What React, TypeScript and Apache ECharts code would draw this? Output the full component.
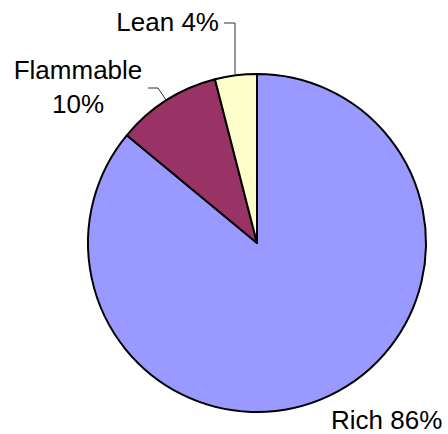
import React, { useEffect, useRef } from "react";
import * as echarts from "echarts";

const categories = ["Rich", "Flammable", "Lean"];
const values = [86, 10, 4];
const colors = ["#9999FF", "#993366", "#FFFFCC"];

export default function App() {
  const ref = useRef<HTMLDivElement>(null);
  useEffect(() => {
    if (!ref.current) return;
    const chart = echarts.init(ref.current, undefined, { renderer: "svg" });
    const labelPos = [
      { x: 331, y: 420, align: "left", verticalAlign: "middle" },
      { x: 78, y: 87, align: "center", verticalAlign: "middle" },
      { x: 219, y: 22, align: "right", verticalAlign: "middle" },
    ];
    const linePts: any[] = [
      null,
      [[166, 100], [158, 88], [148, 88]],
      [[235, 74], [235, 23], [224, 23]],
    ];
    chart.setOption({
      animation: false,
      backgroundColor: "#ffffff",
      series: [
        {
          type: "pie",
          center: [257, 243],
          radius: 169,
          startAngle: 90,
          clockwise: true,
          avoidLabelOverlap: false,
          data: categories.map((c, i) => ({
            name: c,
            value: values[i],
            itemStyle: { color: colors[i] },
            label: {
              formatter: i === 1 ? "{b}\n{d}%" : "{b} {d}%",
              lineHeight: i === 1 ? 34 : 24,
            },
            labelLine: { show: i !== 0 },
          })),
          itemStyle: { borderColor: "#000000", borderWidth: 2 },
          label: {
            show: true,
            position: "outside",
            color: "#000000",
            fontFamily: "Liberation Sans, Arial, sans-serif",
            fontSize: 26,
            precision: 0,
          },
          labelLine: {
            show: true,
            lineStyle: { color: "#333333", width: 1 },
          },
          labelLayout: (params: any) => {
            const i = params.dataIndex;
            const p = labelPos[i];
            const res: any = {
              x: p.x,
              y: p.y,
              align: p.align,
              verticalAlign: p.verticalAlign,
            };
            if (linePts[i]) res.labelLinePoints = linePts[i];
            return res;
          },
        },
      ],
    });
    return () => chart.dispose();
  }, []);
  return (
    <div
      ref={ref}
      style={{ position: "fixed", left: 0, top: 0, width: 448, height: 434 }}
    />
  );
}
